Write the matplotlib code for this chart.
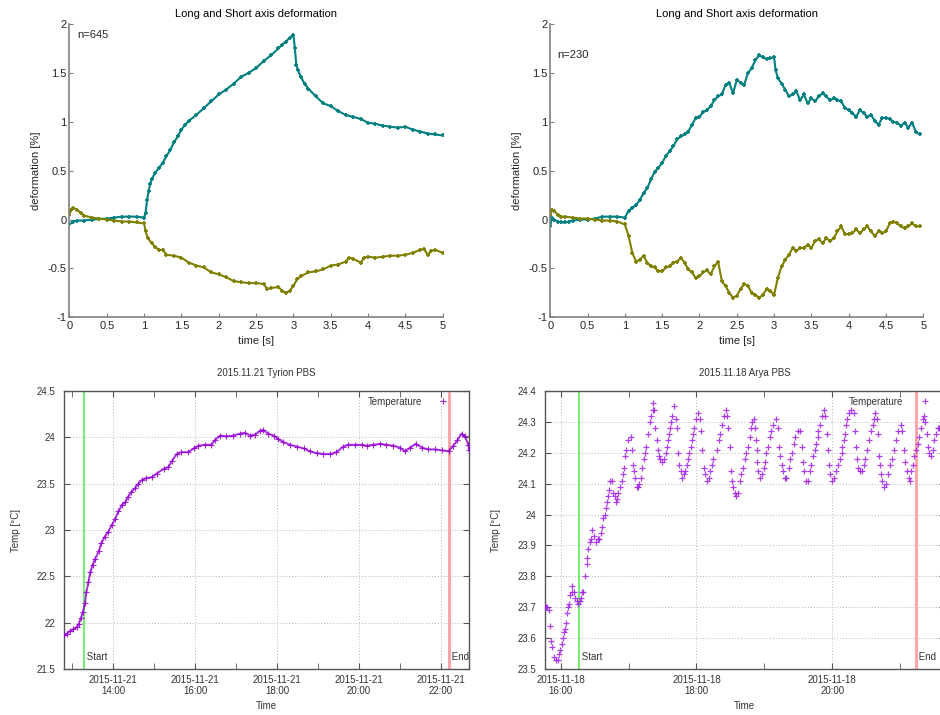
import numpy as np
import matplotlib
matplotlib.use('Agg')
import matplotlib.pyplot as plt
import matplotlib.dates as mdates
import matplotlib.transforms as mtransforms
from matplotlib.ticker import MultipleLocator, FormatStrFormatter, FuncFormatter

plt.rcParams['font.family'] = ['Liberation Sans', 'DejaVu Sans']

# --- deformation, sample n=645 ---
t_long_a = [0, 0.05, 0.1, 0.2, 0.3, 0.4, 0.5, 0.6, 0.7, 0.8,
            0.9, 1.0, 1.02, 1.04, 1.06, 1.08, 1.1, 1.15, 1.2, 1.25,
            1.3, 1.35, 1.4, 1.45, 1.5, 1.55, 1.6, 1.7, 1.8, 1.9,
            2.0, 2.1, 2.2, 2.3, 2.4, 2.5, 2.6, 2.7, 2.8, 2.85,
            2.9, 2.95, 3.0, 3.02, 3.04, 3.06, 3.1, 3.15, 3.2, 3.3,
            3.4, 3.5, 3.6, 3.7, 3.8, 3.9, 4.0, 4.1, 4.2, 4.3,
            4.4, 4.5, 4.6, 4.7, 4.8, 4.9, 5.0]
long_a = [-0.05, -0.02, -0.01, -0.01, 0.0, 0.005, 0.01, 0.02, 0.03, 0.03,
          0.03, 0.02, 0.07, 0.2, 0.29, 0.36, 0.41, 0.48, 0.53, 0.58,
          0.65, 0.71, 0.79, 0.85, 0.92, 0.97, 1.01, 1.07, 1.14, 1.21,
          1.28, 1.33, 1.39, 1.46, 1.50, 1.55, 1.62, 1.68, 1.75, 1.79,
          1.82, 1.86, 1.89, 1.75, 1.58, 1.53, 1.46, 1.39, 1.34, 1.26,
          1.19, 1.16, 1.11, 1.07, 1.05, 1.03, 0.99, 0.98, 0.96, 0.95,
          0.94, 0.95, 0.92, 0.90, 0.88, 0.87, 0.86]
t_short_a = [0, 0.02, 0.05, 0.1, 0.15, 0.2, 0.3, 0.4, 0.5, 0.6,
             0.7, 0.8, 0.9, 1.0, 1.02, 1.05, 1.1, 1.15, 1.2, 1.25,
             1.3, 1.4, 1.5, 1.6, 1.7, 1.8, 1.9, 2.0, 2.1, 2.2,
             2.3, 2.4, 2.5, 2.6, 2.65, 2.7, 2.8, 2.85, 2.9, 2.95,
             3.0, 3.05, 3.1, 3.2, 3.3, 3.4, 3.5, 3.6, 3.7, 3.75,
             3.8, 3.9, 3.95, 4.0, 4.1, 4.2, 4.3, 4.4, 4.5, 4.6,
             4.7, 4.75, 4.8, 4.85, 4.9, 5.0]
short_a = [0.05, 0.10, 0.12, 0.10, 0.07, 0.04, 0.02, 0.01, 0.0, -0.01,
           -0.02, -0.02, -0.03, -0.04, -0.12, -0.19, -0.24, -0.28, -0.31, -0.31,
           -0.36, -0.37, -0.39, -0.44, -0.47, -0.49, -0.54, -0.56, -0.59, -0.63,
           -0.64, -0.65, -0.65, -0.66, -0.71, -0.70, -0.69, -0.73, -0.75, -0.73,
           -0.68, -0.61, -0.58, -0.54, -0.53, -0.51, -0.47, -0.46, -0.43, -0.39,
           -0.40, -0.44, -0.39, -0.38, -0.39, -0.38, -0.37, -0.37, -0.36, -0.34,
           -0.31, -0.30, -0.36, -0.32, -0.31, -0.34]

# --- deformation, sample n=230 ---
t_long_b = [0.0, 0.02, 0.05, 0.1, 0.15, 0.2, 0.25, 0.3, 0.4, 0.5,
            0.6, 0.7, 0.8, 0.9, 1.0, 1.05, 1.1, 1.15, 1.2, 1.25,
            1.3, 1.35, 1.4, 1.45, 1.5, 1.55, 1.6, 1.65, 1.7, 1.75,
            1.8, 1.85, 1.9, 1.95, 2.0, 2.05, 2.1, 2.15, 2.2, 2.25,
            2.3, 2.35, 2.4, 2.45, 2.5, 2.55, 2.6, 2.65, 2.7, 2.75,
            2.8, 2.85, 2.9, 2.95, 3.0, 3.02, 3.05, 3.1, 3.15, 3.2,
            3.25, 3.3, 3.35, 3.4, 3.45, 3.5, 3.55, 3.6, 3.65, 3.7,
            3.75, 3.8, 3.85, 3.9, 3.95, 4.0, 4.05, 4.1, 4.15, 4.2,
            4.25, 4.3, 4.35, 4.4, 4.45, 4.5, 4.55, 4.6, 4.65, 4.7,
            4.75, 4.8, 4.85, 4.9, 4.95]
long_b = [-0.07, 0.02, 0.0, -0.02, -0.03, -0.03, -0.02, -0.01, 0.0, 0.0,
          0.01, 0.03, 0.03, 0.03, 0.02, 0.09, 0.12, 0.15, 0.20, 0.27,
          0.32, 0.41, 0.49, 0.53, 0.58, 0.65, 0.70, 0.75, 0.82, 0.85,
          0.87, 0.90, 0.97, 1.04, 1.05, 1.10, 1.12, 1.16, 1.22, 1.26,
          1.28, 1.38, 1.40, 1.29, 1.43, 1.40, 1.38, 1.50, 1.55, 1.63,
          1.68, 1.66, 1.64, 1.65, 1.66, 1.53, 1.45, 1.39, 1.33, 1.26,
          1.28, 1.31, 1.22, 1.28, 1.19, 1.24, 1.21, 1.26, 1.29, 1.26,
          1.22, 1.24, 1.22, 1.21, 1.14, 1.12, 1.09, 1.05, 1.12, 1.09,
          1.05, 1.07, 1.01, 0.97, 1.04, 1.04, 1.03, 1.00, 0.99, 0.96,
          0.99, 0.94, 0.99, 0.90, 0.87]
t_short_b = [0.0, 0.02, 0.05, 0.1, 0.15, 0.2, 0.3, 0.4, 0.5, 0.6,
             0.7, 0.8, 0.9, 1.0, 1.05, 1.1, 1.15, 1.2, 1.25, 1.3,
             1.35, 1.4, 1.45, 1.5, 1.55, 1.6, 1.65, 1.7, 1.75, 1.8,
             1.85, 1.9, 1.95, 2.0, 2.05, 2.1, 2.15, 2.2, 2.25, 2.3,
             2.35, 2.4, 2.45, 2.5, 2.55, 2.6, 2.65, 2.7, 2.75, 2.8,
             2.85, 2.9, 2.95, 3.0, 3.05, 3.1, 3.15, 3.2, 3.25, 3.3,
             3.35, 3.4, 3.45, 3.5, 3.55, 3.6, 3.65, 3.7, 3.75, 3.8,
             3.85, 3.9, 3.95, 4.0, 4.05, 4.1, 4.15, 4.2, 4.25, 4.3,
             4.35, 4.4, 4.45, 4.5, 4.55, 4.6, 4.65, 4.7, 4.75, 4.8,
             4.85, 4.9, 4.95]
short_b = [0.05, 0.10, 0.09, 0.05, 0.03, 0.03, 0.02, 0.01, 0.01, 0.0,
           -0.01, -0.01, -0.02, -0.05, -0.17, -0.34, -0.43, -0.41, -0.37, -0.44,
           -0.48, -0.49, -0.53, -0.53, -0.49, -0.48, -0.44, -0.43, -0.39, -0.44,
           -0.51, -0.54, -0.60, -0.58, -0.54, -0.52, -0.56, -0.48, -0.43, -0.63,
           -0.68, -0.75, -0.80, -0.78, -0.71, -0.66, -0.68, -0.75, -0.77, -0.80,
           -0.77, -0.71, -0.73, -0.77, -0.60, -0.48, -0.41, -0.36, -0.29, -0.32,
           -0.29, -0.29, -0.26, -0.29, -0.22, -0.20, -0.24, -0.19, -0.22, -0.19,
           -0.12, -0.07, -0.15, -0.15, -0.14, -0.10, -0.14, -0.10, -0.07, -0.12,
           -0.17, -0.12, -0.14, -0.12, -0.04, -0.02, -0.04, -0.07, -0.09, -0.07,
           -0.04, -0.07, -0.07]

# --- temperature log 2015-11-21 (minutes after 14:00) ---
tyrion_min = [-71.5, -68, -63, -58, -53, -50, -47, -44, -41, -39,
              -36, -33, -30, -26, -21, -17, -12, -7, -2, 3,
              8, 13, 18, 22, 27, 32, 37, 42, 49, 57,
              64, 74, 81, 86, 93, 100, 110, 118, 125, 135,
              144, 149, 157, 166, 176, 186, 193, 200, 208, 215,
              220, 227, 235, 242, 249, 259, 269, 279, 288, 298,
              308, 318, 327, 337, 344, 354, 364, 371, 381, 391,
              400, 410, 420, 427, 435, 443, 452, 461, 471, 481,
              491, 498, 504, 510, 515, 520, 521]
tyrion_temp = [21.87, 21.88, 21.91, 21.93, 21.95, 21.99, 22.05, 22.12, 22.21, 22.33,
               22.44, 22.55, 22.62, 22.69, 22.77, 22.86, 22.93, 22.98, 23.05, 23.12,
               23.20, 23.27, 23.30, 23.36, 23.41, 23.45, 23.50, 23.54, 23.56, 23.57,
               23.61, 23.66, 23.68, 23.74, 23.82, 23.84, 23.84, 23.88, 23.91, 23.92,
               23.92, 23.97, 24.02, 24.01, 24.02, 24.04, 24.05, 24.02, 24.03, 24.07,
               24.08, 24.04, 24.02, 23.98, 23.95, 23.92, 23.90, 23.88, 23.85, 23.83,
               23.82, 23.82, 23.84, 23.90, 23.92, 23.92, 23.92, 23.91, 23.92, 23.93,
               23.92, 23.91, 23.89, 23.85, 23.89, 23.93, 23.89, 23.87, 23.87, 23.86,
               23.85, 23.91, 23.97, 24.04, 24.01, 23.92, 23.86]
tyrion_start, tyrion_end = -42, 492

# --- temperature log 2015-11-18 (minutes after 16:00) ---
arya_min = [-14.1, -12.9, -11.8, -10.6, -9.4, -8.5, -7.4, -5.9, -4.1, -2.1,
            -1.2, -0.3, 0.9, 1.8, 2.6, 3.5, 4.7, 5.6, 6.5, 7.4,
            8.2, 9.7, 10.3, 11.5, 12.6, 14.1, 15.6, 17.1, 17.9, 19.1,
            20.0, 21.5, 22.9, 23.5, 24.4, 25.9, 26.5, 27.9, 29.4, 31.2,
            33.2, 34.1, 35.3, 36.8, 37.6, 38.8, 40.0, 40.6, 41.5, 42.6,
            43.8, 45.0, 46.5, 47.6, 48.5, 49.7, 50.9, 52.4, 53.8, 55.0,
            55.6, 56.5, 57.4, 59.4, 62.1, 62.9, 63.8, 64.7, 65.6, 67.1,
            67.9, 69.4, 70.6, 72.1, 73.2, 74.1, 75.3, 76.8, 78.8, 79.7,
            81.2, 81.8, 82.4, 83.5, 84.7, 85.9, 87.1, 88.2, 89.7, 91.2,
            92.9, 93.8, 95.0, 95.9, 96.8, 97.6, 98.2, 100.0, 101.5, 102.4,
            103.8, 104.7, 105.9, 107.4, 109.1, 110.3, 111.5, 112.6, 113.8, 115.0,
            116.2, 117.1, 117.9, 120.0, 121.8, 122.9, 124.1, 125.3, 126.5, 127.6,
            129.4, 131.2, 132.4, 133.8, 135.0, 138.2, 140.0, 141.2, 142.6, 144.4,
            145.9, 147.1, 147.6, 149.4, 150.3, 151.8, 152.6, 154.1, 155.3, 156.8,
            158.2, 159.7, 161.2, 162.9, 164.1, 165.3, 167.1, 167.9, 169.4, 170.6,
            171.5, 172.4, 173.2, 173.8, 174.7, 176.5, 177.9, 179.4, 180.6, 181.8,
            183.2, 184.7, 186.2, 187.6, 190.0, 192.1, 192.9, 194.1, 195.3, 196.5,
            197.9, 199.4, 201.5, 202.9, 204.4, 205.9, 207.4, 209.7, 211.8, 212.9,
            214.1, 215.3, 217.1, 218.8, 220.3, 221.2, 222.9, 224.4, 225.9, 227.1,
            227.6, 228.8, 230.6, 232.4, 233.8, 235.3, 236.2, 237.1, 238.2, 240.0,
            241.8, 243.2, 244.7, 246.5, 248.2, 248.8, 250.0, 250.9, 252.1, 253.2,
            254.7, 256.8, 259.1, 260.0, 261.2, 262.1, 263.2, 264.7, 266.5, 267.9,
            269.4, 270.9, 272.9, 274.4, 275.6, 277.1, 278.2, 279.4, 280.3, 281.2,
            282.1, 282.9, 283.8, 285.6, 287.6, 289.4, 290.9, 292.6, 295.0, 296.5,
            298.2, 300.9, 302.1, 303.2, 304.4, 305.9, 307.6, 308.8, 310.0, 311.2,
            312.4, 314.1, 315.9, 317.1, 318.5, 320.0, 321.5, 322.4, 323.5, 324.7,
            325.9, 327.1, 328.8, 330.3, 331.8, 333.2, 334.7]
arya_temp = [23.70, 23.70, 23.70, 23.69, 23.64, 23.59, 23.57, 23.54, 23.53, 23.53,
             23.55, 23.56, 23.58, 23.60, 23.62, 23.63, 23.65, 23.68, 23.70, 23.71,
             23.74, 23.75, 23.77, 23.75, 23.73, 23.72, 23.71, 23.72, 23.73, 23.75,
             23.75, 23.80, 23.84, 23.86, 23.89, 23.91, 23.92, 23.95, 23.93, 23.91,
             23.92, 23.92, 23.94, 23.96, 23.99, 24.00, 24.02, 24.04, 24.06, 24.08,
             24.11, 24.11, 24.07, 24.06, 24.04, 24.05, 24.07, 24.09, 24.11, 24.13,
             24.15, 24.19, 24.21, 24.24, 24.25, 24.21, 24.16, 24.14, 24.12, 24.09,
             24.09, 24.10, 24.12, 24.15, 24.18, 24.20, 24.22, 24.26, 24.30, 24.32,
             24.34, 24.36, 24.34, 24.28, 24.24, 24.21, 24.19, 24.18, 24.17, 24.18,
             24.20, 24.22, 24.24, 24.26, 24.28, 24.30, 24.32, 24.35, 24.31, 24.28,
             24.20, 24.16, 24.14, 24.12, 24.13, 24.14, 24.16, 24.18, 24.20, 24.22,
             24.24, 24.26, 24.28, 24.31, 24.33, 24.31, 24.27, 24.21, 24.15, 24.13,
             24.11, 24.12, 24.14, 24.16, 24.18, 24.21, 24.24, 24.26, 24.29, 24.32,
             24.34, 24.32, 24.28, 24.22, 24.14, 24.11, 24.09, 24.07, 24.06, 24.07,
             24.11, 24.13, 24.15, 24.18, 24.20, 24.22, 24.25, 24.28, 24.30, 24.31,
             24.28, 24.24, 24.21, 24.17, 24.14, 24.12, 24.13, 24.15, 24.17, 24.20,
             24.22, 24.25, 24.27, 24.29, 24.31, 24.28, 24.22, 24.19, 24.16, 24.14,
             24.12, 24.12, 24.15, 24.18, 24.20, 24.23, 24.25, 24.27, 24.27, 24.22,
             24.17, 24.14, 24.11, 24.11, 24.14, 24.16, 24.19, 24.21, 24.23, 24.25,
             24.27, 24.29, 24.32, 24.34, 24.32, 24.26, 24.21, 24.16, 24.13, 24.11,
             24.12, 24.14, 24.16, 24.18, 24.20, 24.22, 24.24, 24.26, 24.29, 24.31,
             24.33, 24.34, 24.33, 24.27, 24.22, 24.18, 24.15, 24.14, 24.14, 24.16,
             24.18, 24.21, 24.24, 24.27, 24.29, 24.31, 24.33, 24.31, 24.26, 24.19,
             24.16, 24.13, 24.11, 24.09, 24.10, 24.13, 24.16, 24.18, 24.21, 24.24,
             24.27, 24.29, 24.27, 24.21, 24.17, 24.14, 24.12, 24.11, 24.14, 24.16,
             24.19, 24.21, 24.23, 24.25, 24.28, 24.31, 24.32, 24.30, 24.26, 24.22,
             24.20, 24.19, 24.21, 24.24, 24.26, 24.28, 24.28]
arya_start, arya_end = 15.9, 314.4

TEAL = '#008080'
OLIVE = '#808000'
PURPLE = '#9400d3'


def to_time(base, minutes):
    secs = np.round(np.asarray(minutes, dtype=float) * 60).astype(int)
    return np.datetime64(base) + secs.astype('timedelta64[s]')


def deform_panel(ax, tl, vl, ts, vs, n_text, n_y):
    ax.plot(tl, vl, '-', color=TEAL, lw=1.5, marker='+', ms=3.5, mew=1.3)
    ax.plot(ts, vs, '-', color=OLIVE, lw=1.5, marker='+', ms=3.5, mew=1.3)
    ax.set_xlim(0, 5)
    ax.set_ylim(-1, 2)
    ax.xaxis.set_major_locator(MultipleLocator(0.5))
    ax.yaxis.set_major_locator(MultipleLocator(0.5))
    ax.xaxis.set_major_formatter(FormatStrFormatter('%g'))
    ax.yaxis.set_major_formatter(FormatStrFormatter('%g'))
    for s in ('top', 'right'):
        ax.spines[s].set_visible(False)
    for s in ('left', 'bottom'):
        ax.spines[s].set_color('#808080')
        ax.spines[s].set_linewidth(1.2)
    ax.tick_params(direction='in', length=3, color='#808080',
                   labelsize=8, labelcolor='#262626')
    ax.tick_params(axis='x', pad=3)
    ax.tick_params(axis='y', pad=2)
    ax.set_title('Long and Short axis deformation', fontsize=8, pad=5)
    ax.set_xlabel('time [s]', fontsize=8, color='#262626')
    ax.set_ylabel('deformation [%]', fontsize=8, color='#262626')
    ax.xaxis.set_label_coords(0.5, -0.062)
    ax.yaxis.set_label_coords(-0.075, 0.5)
    ax.text(0.1, n_y, n_text, fontsize=8, color='#262626', va='center')


def temp_panel(ax, times, temps, start, end, title, ylim, ystep,
               major_hours, minor_hours, xlim, legend_x, joined):
    if joined:
        ax.plot(times, temps, '-', color=PURPLE, lw=1.4, alpha=0.8, zorder=3)
        ax.plot(times, temps, '+', color=PURPLE, ms=4, mew=0.8, alpha=0.85,
                label='Temperature', zorder=3)
    else:
        ax.plot(times, temps, '+', color='#a020e8', ms=4, mew=0.9, alpha=0.85,
                label='Temperature', zorder=3)
    ax.axvline(start, color='#66ee66', lw=1.3, zorder=2)
    ax.axvline(end, color='#ffa0a0', lw=2.0, zorder=2)
    trans = mtransforms.blended_transform_factory(ax.transData, ax.transAxes)
    ax.text(start, 0.025, ' Start', transform=trans, fontsize=7,
            color='#333333', ha='left', va='bottom')
    ax.text(end, 0.025, ' End', transform=trans, fontsize=7,
            color='#333333', ha='left', va='bottom')
    ax.set_xlim(*xlim)
    ax.set_ylim(*ylim)
    ax.yaxis.set_major_locator(MultipleLocator(ystep))
    ax.yaxis.set_major_formatter(FuncFormatter(lambda v, p: '%g' % round(v, 2)))
    ax.xaxis.set_major_locator(mdates.HourLocator(byhour=major_hours))
    ax.xaxis.set_minor_locator(mdates.HourLocator(byhour=minor_hours))
    ax.xaxis.set_major_formatter(mdates.DateFormatter('%Y-%m-%d\n%H:%M'))
    ax.grid(True, which='major', color='#b8b8b8', ls=(0, (1, 2)), lw=0.7)
    for s in ax.spines.values():
        s.set_color('#555555')
        s.set_linewidth(1.0)
    ax.tick_params(which='both', direction='in', length=4, color='#555555',
                   top=True, right=True, labelsize=7, labelcolor='#333333')
    ax.tick_params(axis='x', pad=4)
    ax.tick_params(axis='y', pad=6)
    ax.set_title(title, fontsize=7, color='#333333', pad=11)
    ax.set_xlabel('Time', fontsize=7, color='#333333')
    ax.set_ylabel('Temp [°C]', fontsize=7, color='#333333')
    ax.xaxis.set_label_coords(0.5, -0.115)
    handles, labels = ax.get_legend_handles_labels()
    ax.legend(handles[-1:], labels[-1:], loc='upper right',
              bbox_to_anchor=(legend_x, 1.0), markerfirst=False,
              frameon=False, fontsize=7, handlelength=1.0,
              handletextpad=1.7, borderaxespad=0.2, labelcolor='#333333')


fig = plt.figure(figsize=(9.4, 7.15), dpi=100)

ax1 = fig.add_axes([0.0739, 0.5562, 0.397, 0.4102])
deform_panel(ax1, t_long_a, long_a, t_short_a, short_a, 'n=645', 1.89)

ax2 = fig.add_axes([0.5854, 0.5562, 0.3968, 0.4102])
deform_panel(ax2, t_long_b, long_b, t_short_b, short_b, 'n=230', 1.68)

ax3 = fig.add_axes([0.0681, 0.0643, 0.4309, 0.3888])
base3 = '2015-11-21T14:00'
temp_panel(ax3, to_time(base3, tyrion_min), tyrion_temp,
           to_time(base3, [tyrion_start])[0], to_time(base3, [tyrion_end])[0],
           '2015.11.21 Tyrion PBS', (21.5, 24.5), 0.5,
           [14, 16, 18, 20, 22], [13, 15, 17, 19, 21],
           (to_time(base3, [-71.7])[0], to_time(base3, [521])[0]),
           0.963, True)
ax3.yaxis.set_label_coords(-0.105, 0.5)

ax4 = fig.add_axes([0.5795, 0.0643, 0.4255, 0.3888])
base4 = '2015-11-18T16:00'
temp_panel(ax4, to_time(base4, arya_min), arya_temp,
           to_time(base4, [arya_start])[0], to_time(base4, [arya_end])[0],
           '2015.11.18 Arya PBS', (23.5, 24.4), 0.1,
           [16, 18, 20], [17, 19, 21],
           (to_time(base4, [-14.1])[0], to_time(base4, [339.4])[0]),
           0.977, False)
ax4.yaxis.set_label_coords(-0.11, 0.5)

fig.savefig('out.png', dpi=100)
